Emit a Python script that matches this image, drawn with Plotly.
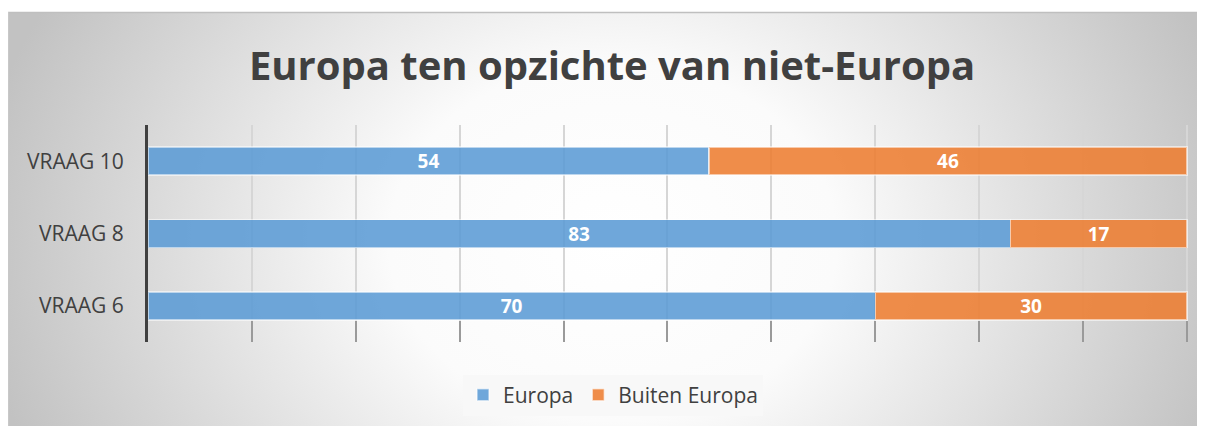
import base64
import plotly.graph_objects as go

categories = ["VRAAG 6", "VRAAG 8", "VRAAG 10"]
europa = [70, 83, 54]
buiten_europa = [30, 17, 46]
series_names = ["Europa", "Buiten Europa"]
title_text = "Europa ten opzichte van niet-Europa"

W, H = 1205, 426
FONT = "Open Sans"
TXT = "#404040"

# radial gradient background (as SVG data uri)
svg = f'''<svg xmlns="http://www.w3.org/2000/svg" width="{W}" height="{H}" viewBox="0 0 {W} {H}">
<defs><radialGradient id="g" gradientUnits="userSpaceOnUse" cx="605" cy="230" r="640"
 gradientTransform="translate(605 230) scale(1 0.8) translate(-605 -230)">
<stop offset="0" stop-color="#ffffff"/><stop offset="0.35" stop-color="#fbfbfb"/>
<stop offset="1" stop-color="#c2c2c2"/></radialGradient></defs>
<rect x="0" y="0" width="{W}" height="{H}" fill="url(#g)"/></svg>'''
uri = "data:image/svg+xml;base64," + base64.b64encode(svg.encode()).decode()

label_font = dict(family=FONT, size=19, color="white", weight="bold")

fig = go.Figure()
fig.add_trace(go.Bar(
    y=categories, x=europa, name=series_names[0], orientation="h",
    marker=dict(color="rgba(91,155,213,0.88)", line=dict(color="rgba(255,255,255,0.55)", width=1.5)),
    texttemplate="%{x}", textposition="inside", insidetextanchor="middle", textangle=0,
    constraintext="none", textfont=label_font, hoverinfo="skip",
))
fig.add_trace(go.Bar(
    y=categories, x=buiten_europa, name=series_names[1], orientation="h",
    marker=dict(color="rgba(237,125,49,0.88)", line=dict(color="rgba(255,255,255,0.55)", width=1.5)),
    texttemplate="%{x}", textposition="inside", insidetextanchor="middle", textangle=0,
    constraintext="none", textfont=label_font, hoverinfo="skip",
))

# page is offset by the 8px body margin; coordinates below are figure pixels
ml, mr, mt, mb = 140, 25, 117, 92
pw, ph = W - ml - mr, H - mt - mb
fig.update_layout(
    width=W, height=H,
    barmode="stack", bargap=0.613,
    uniformtext=dict(mode=False),
    paper_bgcolor="white", plot_bgcolor="rgba(0,0,0,0)",
    margin=dict(l=ml, r=mr, t=mt, b=mb, pad=0),
    font=dict(family=FONT, color=TXT),
    title=dict(text=title_text, x=604 / W, xanchor="center", y=1 - 58 / H, yanchor="middle",
               font=dict(family=FONT, size=40, color="#404040", weight="bold")),
    xaxis=dict(range=[0, 100.1], dtick=10, showticklabels=False, showgrid=True,
               gridcolor="#d6d6d6", gridwidth=1.5, zeroline=False, showline=False,
               ticks="inside", ticklen=21, tickcolor="#9a9a9a", tickwidth=1.5, fixedrange=True),
    yaxis=dict(showline=True, linecolor="#404040", linewidth=3, showgrid=False,
               ticks="", ticklabelstandoff=17, tickfont=dict(family=FONT, size=21, color=TXT),
               fixedrange=True),
    legend=dict(orientation="h", x=(605 - ml) / pw, xanchor="center", y=-(387 - (H - mb)) / ph,
                yanchor="middle", bgcolor="#f8f8f8", borderwidth=0,
                font=dict(family=FONT, size=21, color=TXT), traceorder="normal",
                itemclick=False, itemdoubleclick=False),
    showlegend=True,
)
fig.add_layout_image(dict(source=uri, xref="paper", yref="paper",
                          x=-ml / pw, y=1 + (mt - 4) / ph,
                          sizex=W / pw, sizey=H / ph,
                          xanchor="left", yanchor="top", sizing="stretch", layer="below"))
# chart border (top and left)
fig.add_shape(type="line", xref="paper", yref="paper",
              x0=-ml / pw, x1=1 + mr / pw,
              y0=1 + (mt - 4.5) / ph, y1=1 + (mt - 4.5) / ph,
              line=dict(color="#bfbfbf", width=1.5))
fig.add_shape(type="line", xref="paper", yref="paper",
              x0=(0.5 - ml) / pw, x1=(0.5 - ml) / pw,
              y0=-mb / ph, y1=1 + (mt - 4) / ph,
              line=dict(color="#c8c8c8", width=1))

fig.write_html("out.html", config={"displayModeBar": False})
